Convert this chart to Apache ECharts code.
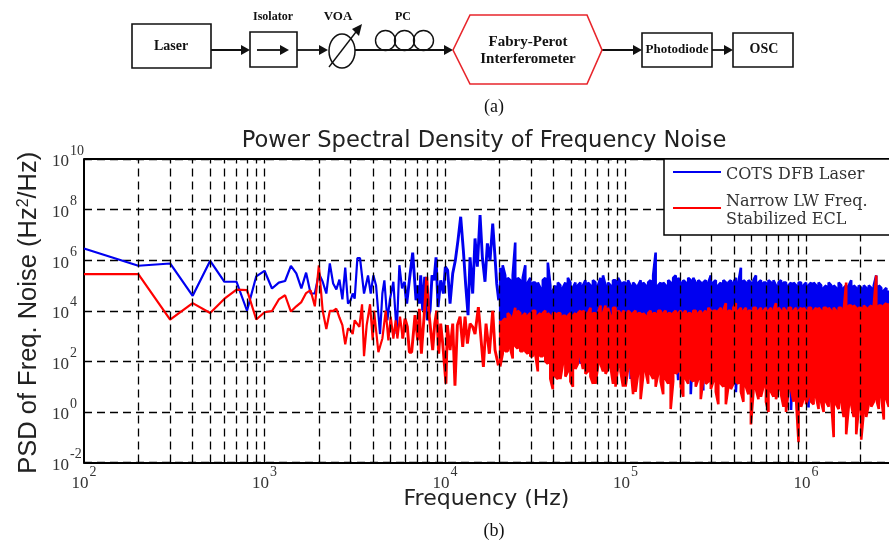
<!DOCTYPE html>
<html>
<head>
<meta charset="utf-8">
<style>html,body{margin:0;padding:0;background:#fff}#c{width:889px;height:541px}</style>
<script src="https://cdn.jsdelivr.net/npm/echarts@6/dist/echarts.min.js"></script>
</head>
<body>
<div id="c"></div>
<script>
const blueName = 'COTS DFB Laser';
const redName = 'Narrow LW Freq.\nStabilized ECL';
const chartTitle = 'Power Spectral Density of Frequency Noise';

// Sparse part of the spectra (Hz, Hz^2/Hz)
const blueFreq = [100,200,300,400,500,600,700,800,900,1000,1100,1200,1300,1400,1500,1600,1700,1800,1900,2000,2100,2200,2300,2400,2500,2600,2700,2800,2900,3000,
3079,3159,3269,3381,3558,3745,3875,4009,4148,4364,4497,4613,4792,4958,5173,5398,5585,5778,5952,6133,6344,6620,6906,7055,7207,7332,7522,7716,7983,8260,
8472,8692,8916,9146,9462,9790,10040,10340,10660,11030,11410,11800,12210,12630,13020,13410,13760,14230,14660,15100,15630,16100,16650,17160,17760,18370,18920,19330,19830];
const bluePsd = [2.9e6,6e5,7.4e5,3.9e4,9.4e5,1.4e5,1.4e5,1e4,2.3e5,3.8e5,7.6e4,1.3e5,1.5e5,6e5,3e5,7.6e4,3.2e5,4.8e4,4.8e4,3e5,1.4e5,4.8e4,7.4e5,1.2e5,7e4,1.7e5,2.8e4,5.1e5,1.9e4,2.6e4,
4.8e4,3e4,1.2e6,1.2e6,4.8e4,2.5e5,4.8e4,2.5e5,1e5,1.2e3,4.8e4,1.6e5,4.2e3,3e4,1.4e5,1.2e3,6.3e5,7.6e4,1.4e5,1.9e4,1.6e5,2e6,2.6e4,1e5,1.9e4,2.5e5,1e4,2.2e5,4.2e3,1e4,
2.5e5,1.6e5,1.3e6,1.4e4,1.6e5,4.8e4,5.5e5,4e5,1.9e4,3e5,1e6,6.2e6,5.2e7,2.5e6,1e5,6.7e3,1.3e6,4.8e4,7.2e6,5.5e5,6e7,1.3e6,1.4e5,4.6e6,1e6,2.8e7,1.3e6,1.2e5,2.6e4];
const redFreq = [100,200,300,400,500,600,700,800,900,1000,1100,1200,1300,1400,1500,1600,1700,1800,1900,2000,2100,2200,2300,2400,2500,2600,2700,2800,2900,3000,
3079,3159,3353,3470,3558,3681,3842,3976,4044,4273,4497,4692,4854,5000,5173,5330,5445,5632,5828,6003,6186,6344,6535,6820,7055,7207,7395,7652,7918,8120,
8544,8767,8992,9224,9462,9708,10116,10300,10660,11030,11350,11704,12110,12530,12910,13300,13760,14230,14660,15300,15960,16310,16870,17600,18370,18920,19750];
const redPsd = [2.8e5,2.8e5,4.5e3,2e4,8.2e3,3e4,6.9e4,6.5e4,4.5e3,8.7e3,9.8e3,2.8e4,4.1e4,9.3e3,1.5e4,2.2e4,5e4,6.5e4,1.5e4,6.3e5,1e4,1.9e3,9.8e3,9.8e3,1.2e4,5.4e3,2.7e3,4.7e2,2e3,1.7e3,
1.2e3,4.2e3,2.3e3,1.8e4,1.6e2,2.7e3,1.8e4,6.8e2,1e4,2.3e2,8e2,1e4,6.8e2,5.8e3,8e2,4.2e3,8e2,5.8e3,8e2,4.9e3,2.3e3,2.3e2,2.3e2,6.7e3,6.8e2,1.2e4,2e2,5.8e3,2.2e5,1e4,
2.8e2,3.1e3,1e4,2e2,3.1e3,5e2,13,2.7e3,2.8e2,3.1e3,11,2.7e3,5.8e3,3.7e2,5.8e3,5e2,3.1e3,2.3e3,1.2e3,1.4e4,3.7e2,60,3.1e3,2e2,1e4,2.8e2,69];

// Dense part: per frequency bin, the top and bottom of each trace's excursion
const denseFreq = [
20210,20870,21540,22240,22970,23710,24480,25280,26100,26950,
27830,28730,29670,30630,31620,32650,33710,34810,35940,37110,
38310,39560,40840,42170,43540,44960,46420,47930,49480,51090,
52750,54470,56230,58060,59950,61900,63910,65980,68130,70340,
72630,74990,77430,79940,82540,85220,87990,90850,93800,96850,
100000,103200,106600,110100,113600,117300,121200,125100,129200,133400,
137700,142200,146800,151600,156500,161600,166800,172300,177800,183600,
189600,195700,202100,208700,215400,222400,229700,237100,244800,252800,
261000,269500,278300,287300,296700,306300,316200,326500,337100,348100,
359400,371100,383100,395600,408400,421700,435400,449600,464200,479300,
494800,510900,527500,544700,562300,580600,599500,619000,639100,659800,
681300,703400,726300,749900,774300,799400,825400,852200,879900,908500,
938000,968500,1000000,1032000,1066000,1101000,1136000,1173000,1212000,1251000,
1292000,1334000,1377000,1422000,1468000,1516000,1565000,1616000,1668000,1723000,
1778000,1836000,1896000,1957000,2021000,2087000,2154000,2224000,2297000,2371000,
2448000,2528000,2610000,2695000,2783000,2873000];
const blueHi = [
5e5,6.3e5,2.5e5,2e5,1.6e5,2.5e5,5e6,2e5,1.6e5,2e5,
6.3e5,1.3e5,2e5,1.3e5,1.3e5,1.3e5,8e4,1.6e5,2e5,8e5,
1e5,6.3e4,1e5,1.3e5,1e5,8e4,1.3e5,2e5,1.3e5,8e4,
1.3e5,1e5,1.3e5,1e5,1.6e5,1.3e5,1e5,1.6e5,1.3e5,1e5,
2e5,2.5e5,1e5,1.3e5,1e5,1.6e5,1.6e5,2e5,1.3e5,1.3e5,
1.3e5,1.6e5,1e5,1.3e5,1e5,1e5,1.6e5,1.3e5,1e5,1.3e5,
1.6e5,2.5e5,2e6,1e5,1.3e5,1.3e5,1e5,1.6e5,1.3e5,2e5,
2.5e5,2e5,1.3e5,1.6e5,1.3e5,2e5,1.6e5,2e5,1.3e5,1.6e5,
1.3e5,1.3e5,1.6e5,1.3e5,2.5e5,1.3e5,1.6e5,1e5,1.3e5,1.6e5,
1.3e5,1.3e5,1.6e5,1.3e5,2e5,1.3e5,5e5,1.6e5,1.3e5,1.6e5,
1.3e5,1.6e5,2.5e5,1.3e5,1.6e5,1.3e5,1.3e5,1.6e5,1.3e5,1.6e5,
1e5,1.3e5,1.6e5,1.3e5,1.3e5,1e5,1.3e5,1.3e5,1e5,1.3e5,
1.3e5,1e5,1.3e5,1e5,1.3e5,1.3e5,1e5,1.3e5,1e5,8e4,
1e5,1.3e5,1e5,1e5,8e4,1.3e5,1e5,8e4,1e5,1e5,
1.6e5,1e5,8e4,1e5,8e4,1e5,8e4,1e5,8e4,1e5,
2.5e5,1e5,8e4,6.3e4,8e4,6.3e4];
const blueLo = [
3000,3000,2500,3000,2000,3000,2000,2500,1500,2000,
1500,1200,1000,1000,1200,900,1000,1100,800,1000,
1000,900,1000,800,1100,1000,900,1000,800,1000,
1000,900,80,900,1000,800,1000,900,1000,800,
1000,900,1000,800,1000,1000,900,1000,800,1000,
900,1000,20,1000,800,1000,900,1000,800,1000,
900,1000,800,1000,900,1000,800,1000,900,1000,
800,18,900,1000,800,1000,5,900,800,1000,
900,7,1000,800,900,1000,800,900,1000,800,
900,1000,800,900,6,1000,800,900,1000,800,
900,1000,800,900,1000,800,900,1000,800,900,
1000,800,900,1000,800,900,1.2,1000,800,900,
1000,800,900,1.5,1000,800,900,1000,800,900,
1000,800,900,1000,800,900,1000,800,900,1000,
800,900,1000,800,900,1000,800,900,1000,800,
900,1000,800,900,1000,800];
const redHi = [
4e3,4e3,5e3,8e3,6.3e3,5e3,1.3e4,1e4,8e3,6.3e3,
8e3,6.3e3,8e3,1e4,1e4,6.3e3,8e3,8e3,1e4,8e3,
6.3e3,8e3,8e3,8e3,8e3,6.3e3,6.3e3,6.3e3,8e3,6.3e3,
8e3,8e3,1e4,1e4,8e3,8e3,1.3e4,8e3,8e3,8e3,
1.6e4,8e3,1.6e4,1.3e4,6.3e3,1.3e4,1.3e4,1e4,8e3,1e4,
8e3,1e4,8e3,8e3,1e4,8e3,8e3,8e3,6.3e3,8e3,
1e4,8e3,8e3,1e4,1e4,8e3,1e4,8e3,8e3,8e3,
1e4,8e3,1e4,8e3,1e4,8e3,8e3,1e4,1e4,8e3,
1e4,8e3,1e4,1.3e4,1e4,1e4,1e4,1e4,1.3e4,1e4,
2e4,1e4,1e4,1.3e4,2e4,1e4,1.3e4,1e4,1.3e4,1e4,
1e4,1.3e4,1.3e4,1e4,1.3e4,1e4,1.3e4,1e4,1.3e4,1e4,
2e4,1.3e4,1e4,1.3e4,1e4,1.3e4,1.3e4,1e4,1.3e4,1e4,
1.3e4,1.3e4,1e4,1.3e4,1.3e4,1e4,1.3e4,1.3e4,1e4,1.3e4,
1.3e4,1.3e4,1e4,1.3e4,1e4,1.3e4,1.3e4,1e4,1.3e5,1.6e4,
1.6e4,1.6e4,1.3e4,1.3e4,1.3e4,1.6e4,1.3e4,1.3e4,1.6e4,1.6e4,
2.5e5,1.6e4,1.6e4,1.6e4,2e4,2e4];
const redLo = [
63,200,250,250,320,130,400,320,250,250,
250,200,160,160,200,40,160,160,100,80,
20,8,25,20,20,80,25,40,16,10,
50,80,160,50,32,40,25,13,13,63,
80,40,32,50,63,13,10,63,40,10,
10,50,63,5,6.3,32,3.2,25,40,13,
32,20,10,32,16,5,20,13,1.3,16,
32,40,10,4,20,13,20,16,10,20,
3.2,20,13,16,8,16,6.3,2,13,10,
2,10,8,13,16,13,6.3,2.5,10,5,
0.32,6.3,8,3.2,4,10,2.5,1,6.3,4,
3.2,8,5,1.6,1,6.3,8,2.5,3.2,0.063,
1.6,3.2,2,4,2.5,2,4,1.3,2.5,1,
2.5,1.6,3.2,0.1,2,1.3,2.5,0.63,0.13,1.6,
2,0.63,0.13,1.3,0.08,1,0.63,2,1.6,2.5,
3.2,1.3,4,0.5,3.2,1.6];

const gridFreq = [200,300,400,500,600,700,800,900,1000,2000,3000,4000,5000,6000,7000,8000,9000,10000,20000,30000,40000,50000,60000,70000,80000,90000,100000,200000,300000,400000,500000,600000,700000,800000,900000,1000000,2000000];

function pairs(f, v){ return f.map((x,i)=>[x,v[i]]); }
function band(f, hi, lo){
  const out=[];
  f.forEach((x,i)=>{
    if(i%2===0){ out.push([x,hi[i]],[x,lo[i]]); }
    else { out.push([x,lo[i]],[x,hi[i]]); }
  });
  return out;
}
const thickFrom = 6000;
const below = p => p[0] <= thickFrom;
const above = p => p[0] >= thickFrom - 200;
const expLabel = v => {
  const e = Math.log10(v), r = Math.round(e);
  if (Math.abs(e-r) > 1e-6) return '';
  return '{b|10}{s|' + r + '}';
};
const labelRich = {
  b:{fontFamily:'Liberation Serif',fontSize:17,color:'#333',lineHeight:36,verticalAlign:'middle'},
  s:{fontFamily:'Liberation Serif',fontSize:14,color:'#333',lineHeight:36,verticalAlign:'top',padding:[0,0,0,1]}
};

// Block diagram (a)
const ink='#111';
const G=[];
const box=(x1,y1,x2,y2)=>G.push({type:'rect',shape:{x:x1,y:y1,width:x2-x1,height:y2-y1},style:{fill:'#fff',stroke:ink,lineWidth:1.6}});
const txt=(t,x,y,size,w,fam)=>G.push({type:'text',x:x,y:y,style:{text:t,x:0,y:0,align:'center',verticalAlign:'middle',fontFamily:fam||'Liberation Serif',fontWeight:w||'bold',fontSize:size,fill:'#111'}});
const arrow=(x1,x2,y)=>{
  G.push({type:'line',shape:{x1:x1,y1:y,x2:x2-6,y2:y},style:{stroke:ink,lineWidth:1.8}});
  G.push({type:'polygon',shape:{points:[[x2,y],[x2-9,y-5],[x2-9,y+5]]},style:{fill:ink}});
};
box(132,24,211,68); box(250,32,297,67); box(642,33,712,67); box(733,33,793,67);
arrow(211,250,50); arrow(257,289,50); arrow(297,328,50); arrow(355,453,50); arrow(602,642,50); arrow(712,733,50);
G.push({type:'ellipse',shape:{cx:342,cy:51,rx:13,ry:17},style:{fill:'none',stroke:ink,lineWidth:1.5}});
G.push({type:'line',shape:{x1:329,y1:67,x2:359,y2:28},style:{stroke:ink,lineWidth:1.4}});
G.push({type:'polygon',shape:{points:[[362,24],[352,29],[359,36]]},style:{fill:ink}});
[385.5,404.5,423.5].forEach(c=>G.push({type:'circle',shape:{cx:c,cy:40.5,r:10},style:{fill:'none',stroke:ink,lineWidth:1.4}}));
G.push({type:'polygon',shape:{points:[[453,50],[470,15],[587,15],[602,50],[587,84],[470,84]]},style:{fill:'#fff',stroke:'#e8262c',lineWidth:1.6}});
txt('Laser',171,46,14); txt('Isolator',273,17,12); txt('VOA',338,17,13); txt('PC',403,17,12);
txt('Fabry-Perot',528,42,15); txt('Interferometer',528,59,15); txt('Photodiode',677,50,13); txt('OSC',764,49,14);
txt('(a)',494,107,18,'normal'); txt('(b)',494,531,18,'normal');
G.push({type:'line',shape:{x1:84,y1:159,x2:889,y2:159},style:{stroke:'#000',lineWidth:2},z:3});
G.push({type:'rect',shape:{x:664,y:159,width:228,height:76},style:{fill:'#fff',stroke:'#000',lineWidth:1.5},z:40});

const chart = echarts.init(document.getElementById('c'),null,{renderer:'canvas'});
chart.setOption({
  animation:false,
  backgroundColor:'#fff',
  title:{text:chartTitle,left:479,top:125,textAlign:'center',textStyle:{fontFamily:'DejaVu Sans',fontWeight:'normal',fontSize:22.6,color:'#222'}},
  legend:{
    data:[{name:blueName,icon:'path://M0,0H48V2H0Z M48,8Z'},{name:redName,icon:'path://M0,0H48V2H0Z M48,8Z'}],
    left:664,top:162,orient:'vertical',itemWidth:48,itemHeight:8,itemGap:9,z:50,
    padding:[4,0,6,9],
    textStyle:{fontFamily:'DejaVu Serif',fontSize:16,color:'#333',lineHeight:18}
  },
  grid:{left:84,right:0,top:159,height:303.5,containLabel:false},
  xAxis:{
    type:'log',logBase:10,min:100,max:2880000,
    name:'Frequency (Hz)',nameLocation:'middle',nameGap:26,nameMoveOverlap:false,
    nameTextStyle:{fontFamily:'DejaVu Sans',fontSize:22,color:'#222'},
    axisLine:{show:true,onZero:false,lineStyle:{color:'#000',width:2}},
    axisTick:{show:false},minorTick:{show:false},splitLine:{show:false},minorSplitLine:{show:false},
    axisLabel:{formatter:expLabel,rich:labelRich,margin:3,showMaxLabel:false,hideOverlap:false}
  },
  yAxis:{
    type:'log',logBase:10,min:0.01,max:1e10,interval:2,
    name:'PSD of Freq. Noise (Hz{u|2}/Hz)',nameLocation:'middle',nameGap:42,nameRotate:90,nameMoveOverlap:false,
    nameTextStyle:{fontFamily:'Liberation Sans',fontSize:25.5,color:'#222',padding:[0,4,0,0],
      rich:{u:{fontFamily:'Liberation Sans',fontSize:16,color:'#222',verticalAlign:'top'}}},
    axisLine:{show:true,onZero:false,lineStyle:{color:'#000',width:2}},
    axisTick:{show:false},minorTick:{show:false},minorSplitLine:{show:false},
    splitLine:{show:true,lineStyle:{color:'#000',type:[8,5],width:1.3}},
    axisLabel:{formatter:expLabel,rich:labelRich,margin:32,align:'left',padding:[6,0,0,0]}
  },
  series:[
    {name:'grid',type:'line',data:[],z:1,silent:true,
     markLine:{silent:true,symbol:'none',animation:false,label:{show:false},
       lineStyle:{color:'#000',type:[8,5],width:1.3},data:gridFreq.map(f=>({xAxis:f}))}},
    {name:blueName,type:'line',z:3,symbol:'none',showSymbol:false,data:pairs(blueFreq,bluePsd).filter(below),lineStyle:{color:'#0000f0',width:2.2,join:'bevel'},itemStyle:{color:'#0000f0'}},
    {name:'COTS DFB Laser, upper band',type:'line',z:3,symbol:'none',showSymbol:false,data:pairs(blueFreq,bluePsd).filter(above),lineStyle:{color:'#0000f0',width:2.9,join:'bevel'},itemStyle:{color:'#0000f0'}},
    {name:'COTS DFB Laser, dense bins',type:'line',z:3,symbol:'none',showSymbol:false,data:band(denseFreq,blueHi,blueLo),lineStyle:{color:'#0000f0',width:2.6,join:'bevel'},itemStyle:{color:'#0000f0'}},
    {name:redName,type:'line',z:4,symbol:'none',showSymbol:false,data:pairs(redFreq,redPsd).filter(below),lineStyle:{color:'#ff0000',width:2.2,join:'bevel'},itemStyle:{color:'#ff0000'}},
    {name:'Stabilized ECL, upper band',type:'line',z:4,symbol:'none',showSymbol:false,data:pairs(redFreq,redPsd).filter(above),lineStyle:{color:'#ff0000',width:2.9,join:'bevel'},itemStyle:{color:'#ff0000'}},
    {name:'Stabilized ECL, dense bins',type:'line',z:4,symbol:'none',showSymbol:false,data:band(denseFreq,redHi,redLo),lineStyle:{color:'#ff0000',width:2.6,join:'bevel'},itemStyle:{color:'#ff0000'}}
  ],
  graphic:{elements:G}
});
</script>
</body>
</html>
